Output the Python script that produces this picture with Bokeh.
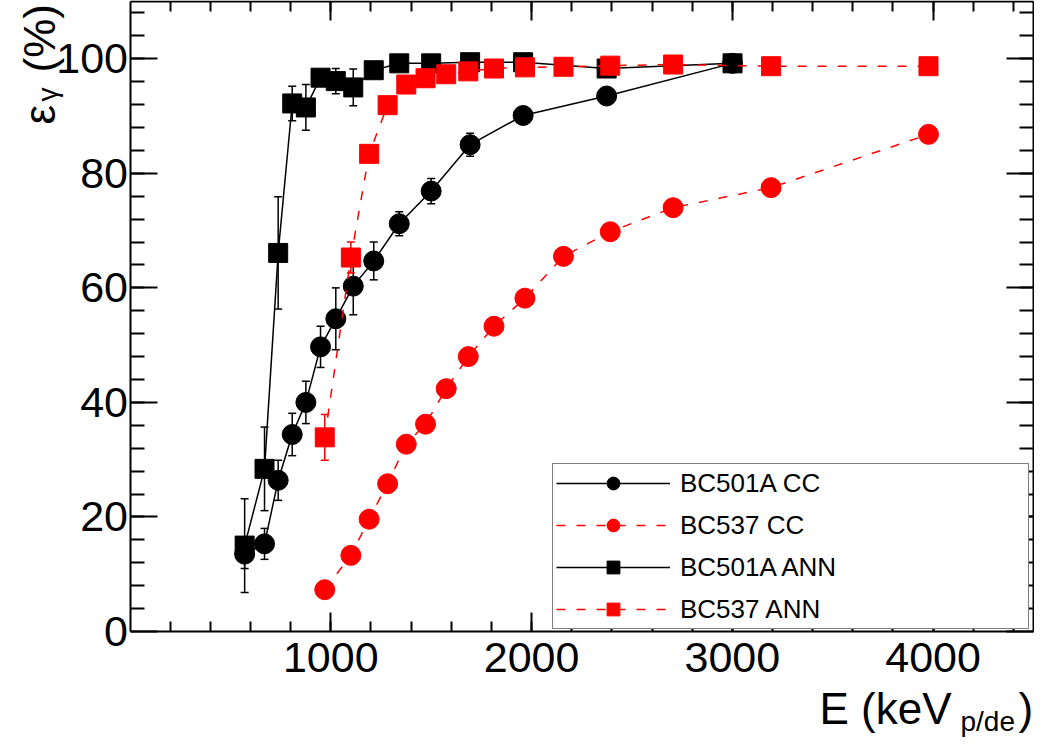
import numpy as np
from bokeh.plotting import figure
from bokeh.models import (Range1d, FixedTicker, LinearAxis, Whisker, ColumnDataSource,
                          Label, Legend, LegendItem, TeeHead)
from bokeh.embed import file_html
from bokeh.resources import INLINE

# ---------------- data ----------------
bc501a_x = [571, 670, 738, 808, 876, 949, 1025, 1112, 1214, 1341, 1500, 1694, 1958, 2374, 3001]
bc501a_cc_y = [13.5, 15.3, 26.4, 34.4, 40.0, 49.7, 54.6, 60.3, 64.7, 71.2, 76.9, 85.0, 90.1, 93.5, 99.2]
bc501a_cc_err = [2.5, 2.7, 3.5, 3.7, 3.7, 3.6, 5.4, 5.0, 3.3, 2.1, 2.2, 2.0, 0.6, 0.5, 0.5]
bc501a_ann_y = [15.0, 28.4, 66.1, 92.2, 91.5, 96.7, 96.1, 95.0, 98.0, 99.2, 99.2, 99.4, 99.4, 98.3, 99.2]
bc501a_ann_err = [8.2, 7.3, 9.8, 3.0, 4.0, 1.0, 2.2, 3.2, 1.0, 0.8, 0.6, 0.5, 0.5, 0.8, 0.5]

bc537_x = [970, 1100, 1191, 1283, 1376, 1472, 1575, 1685, 1813, 1967, 2159, 2392, 2705, 3193, 3977]
bc537_cc_y = [7.3, 13.3, 19.6, 25.8, 32.7, 36.2, 42.4, 48.0, 53.3, 58.2, 65.5, 69.8, 74.0, 77.5, 86.8]
bc537_cc_err = [0.5, 0.5, 0.5, 0.5, 0.5, 0.5, 0.5, 0.5, 0.5, 0.5, 0.5, 0.5, 0.5, 0.5, 0.5]
bc537_ann_y = [33.9, 65.3, 83.4, 91.9, 95.5, 96.6, 97.3, 97.8, 98.3, 98.5, 98.6, 98.8, 99.0, 98.7, 98.7]
bc537_ann_err = [4.0, 2.7, 1.2, 1.0, 0.8, 0.6, 0.5, 0.5, 0.5, 0.5, 0.5, 0.5, 0.5, 0.5, 0.5]

x_lo, x_hi = 0, 4500
y_lo, y_hi = 0, 110
x_major = [1000, 2000, 3000, 4000]
x_minor = list(range(200, 4500, 200))
y_major = [0, 20, 40, 60, 80, 100]
y_minor = list(range(4, 110, 4))

FONT = "Liberation Sans"

# ---------------- layout (canvas pixels) ----------------
W, H = 1034, 739
BOX_L, BOX_R, BOX_T, BOX_B = 129.5, 1033.0, 1.0, 631.0
kx = (BOX_R - BOX_L) / (x_hi - x_lo)
ky = (BOX_B - BOX_T) / (y_hi - y_lo)
xr = Range1d(x_lo - BOX_L / kx, x_hi + (W - BOX_R) / kx)
yr = Range1d(y_lo - (H - BOX_B) / ky, y_hi + BOX_T / ky)

p = figure(width=W, height=H, x_range=xr, y_range=yr,
           output_backend="svg", toolbar_location=None,
           x_axis_location=None, y_axis_location=None,
           min_border=0)
p.grid.visible = False
p.outline_line_color = None
p.background_fill_color = "white"
p.border_fill_color = "white"

xt = FixedTicker(ticks=x_major, minor_ticks=x_minor)
yt = FixedTicker(ticks=y_major, minor_ticks=y_minor)

def make_axis(ticker, loc, bounds, major_len, minor_len, show_labels, standoff):
    ax = LinearAxis(fixed_location=loc, bounds=bounds, ticker=ticker)
    ax.axis_line_color = "black"
    ax.axis_line_width = 2
    ax.major_tick_line_color = "black"
    ax.major_tick_line_width = 2
    ax.minor_tick_line_color = "black"
    ax.minor_tick_line_width = 2
    ax.major_tick_in = major_len
    ax.major_tick_out = 0
    ax.minor_tick_in = minor_len
    ax.minor_tick_out = 0
    ax.axis_label = None
    ax.major_label_text_font = FONT
    ax.major_label_text_font_size = "43px"
    ax.major_label_standoff = standoff
    ax.major_label_text_color = "black" if show_labels else None
    return ax

p.add_layout(make_axis(xt, y_lo, (x_lo, x_hi), 19, 10, True, 11), "below")
p.add_layout(make_axis(xt, y_hi, (x_lo, x_hi), 19, 10, False, 2), "above")
p.add_layout(make_axis(yt, x_lo, (y_lo, y_hi), 27, 14, True, 2), "left")
p.add_layout(make_axis(yt, x_hi, (y_lo, y_hi), 27, 14, False, 2), "right")

def errbars(x, y, e, color):
    src = ColumnDataSource(dict(x=x, lo=[a - b for a, b in zip(y, e)], hi=[a + b for a, b in zip(y, e)]))
    w = Whisker(source=src, base="x", lower="lo", upper="hi", line_color=color, line_width=1.5,
                upper_head=TeeHead(size=8, line_color=color, line_width=1.5),
                lower_head=TeeHead(size=8, line_color=color, line_width=1.5),
                level="underlay")
    p.add_layout(w)

series = [
    ("BC501A CC", bc501a_x, bc501a_cc_y, bc501a_cc_err, "black", "solid", "circle", 20),
    ("BC537 CC", bc537_x, bc537_cc_y, bc537_cc_err, "#ff0000", "9 11", "circle", 20),
    ("BC501A ANN", bc501a_x, bc501a_ann_y, bc501a_ann_err, "black", "solid", "square", 19),
    ("BC537 ANN", bc537_x, bc537_ann_y, bc537_ann_err, "#ff0000", "9 11", "square", 19),
]

items = []
for name, x, y, e, col, dash, mk, sz in series:
    errbars(x, y, e, col)
    lr = p.line(x, y, line_color=col, line_width=1.5, line_dash=dash)
    sr = p.scatter(x, y, marker=mk, size=sz, fill_color=col, line_color=col)
    items.append(LegendItem(label=name, renderers=[lr, sr]))

legend = Legend(items=items, location=(552, H - 629), margin=0, padding=3, spacing=10,
                glyph_width=114, glyph_height=32, label_height=32, label_width=345,
                label_standoff=10, label_text_font=FONT, label_text_font_size="26px",
                label_text_color="black", border_line_color="black", border_line_width=1.5,
                background_fill_color="white", background_fill_alpha=1.0)
p.add_layout(legend)

def lab(text, cx, cy, size, align="left", angle=0.0):
    # cx, cy: canvas pixel position (from top-left)
    return Label(x=cx, y=H - cy, x_units="screen", y_units="screen", text=text,
                 text_font=FONT, text_font_size=size, text_align=align,
                 text_baseline="alphabetic", angle=angle, text_color="black")

# x-axis title
p.add_layout(lab("E (keV", 951, 708, "44px", "right"))
p.add_layout(lab("p/de", 960, 721, "28px"))
p.add_layout(lab(")", 1018, 708, "44px"))

# y-axis title (rotated)
rot = np.pi / 2
p.add_layout(lab("ε", 39, 124, "44px", "left", rot))
p.add_layout(lab("γ", 47, 101, "28px", "left", rot))
p.add_layout(lab("(%)", 39, 72, "44px", "left", rot))

open("out.html", "w").write(file_html(p, INLINE))
